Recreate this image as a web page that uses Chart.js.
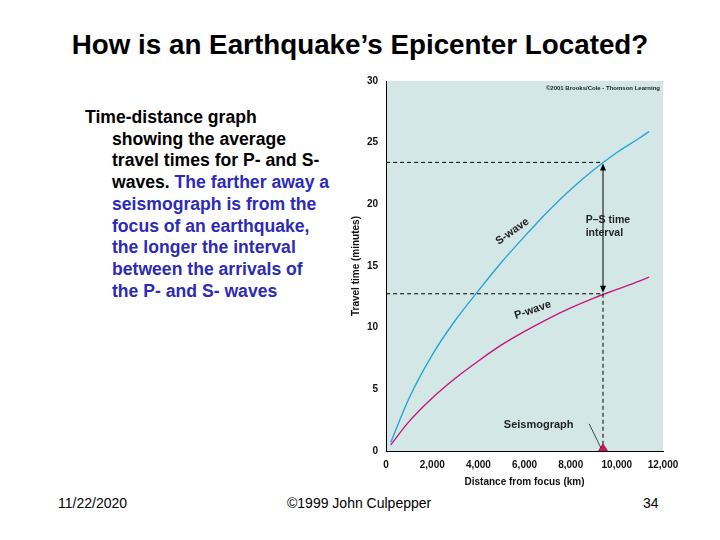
<!DOCTYPE html>
<html><head><meta charset="utf-8">
<script src="https://cdn.jsdelivr.net/npm/chart.js@4"></script>
<style>
body{margin:0;width:720px;height:540px;background:#fff;font-family:"Liberation Sans",Arial,sans-serif;position:relative;overflow:hidden}
#t{position:absolute;top:29px;left:0;width:720px;text-align:center;font-size:27.8px;font-weight:bold;line-height:32px}
#txt{position:absolute;left:85px;top:107px;width:290px;font-size:17.6px;font-weight:bold;line-height:21.7px;padding-left:27px;text-indent:-27px;white-space:nowrap}
.b{color:#2b2bb8}
.f{position:absolute;top:495px;font-size:14px}
#cw{position:absolute;left:340px;top:72px;width:345px;height:420px}
</style></head><body>
<div id="t">How is an Earthquake’s Epicenter Located?</div>
<div id="txt">Time-distance graph<br>showing the average<br>travel times for P- and S-<br>waves. <span class="b">The farther away a<br>seismograph is from the<br>focus of an earthquake,<br>the longer the interval<br>between the arrivals of<br>the P- and S- waves</span></div>
<div class="f" style="left:58px">11/22/2020</div>
<div class="f" style="left:287px">©1999 John Culpepper</div>
<div class="f" style="left:643px">34</div>
<div id="cw"><canvas id="c"></canvas></div>
<script>
const distances=[200,1000,2000,3000,4000,5000,6000,7000,8000,9000,10000,11000,11400];
const sWave=[0.7,4.3,7.8,10.6,13.0,15.3,17.4,19.4,21.2,22.8,24.2,25.4,25.9];
const pWave=[0.5,2.4,4.3,5.9,7.3,8.6,9.7,10.7,11.6,12.4,13.1,13.8,14.1];
const yTicks=[0,5,10,15,20,25,30];
const station=9400, sAt=23.4, pAt=12.75;
const F='"Liberation Sans",Arial,sans-serif';
const bg={id:'bg',beforeDraw(c){const a=c.chartArea,x=c.ctx;x.save();x.fillStyle='#d3e7e7';x.fillRect(a.left,a.top,a.right-a.left,a.bottom-a.top);x.restore();}};
const ann={id:'ann',afterDatasetsDraw(c){const x=c.ctx,X=c.scales.x,Y=c.scales.y;const sx=X.getPixelForValue(station),x0=X.getPixelForValue(0),ys=Y.getPixelForValue(sAt),yp=Y.getPixelForValue(pAt),y0=Y.getPixelForValue(0);
x.save();x.strokeStyle='#000';x.lineWidth=1;x.setLineDash([4,3]);
x.beginPath();x.moveTo(x0,ys);x.lineTo(sx,ys);x.moveTo(x0,yp);x.lineTo(sx,yp);x.moveTo(sx,yp);x.lineTo(sx,y0-6);x.stroke();
x.setLineDash([]);x.beginPath();x.moveTo(sx,ys+6);x.lineTo(sx,yp-6);x.stroke();
x.fillStyle='#000';x.beginPath();x.moveTo(sx,ys+1);x.lineTo(sx-3,ys+8);x.lineTo(sx+3,ys+8);x.fill();
x.beginPath();x.moveTo(sx,yp-1);x.lineTo(sx-3,yp-8);x.lineTo(sx+3,yp-8);x.fill();
x.fillStyle='#c2185b';x.beginPath();x.moveTo(sx,y0-8);x.lineTo(sx-5,y0);x.lineTo(sx+5,y0);x.fill();
x.fillStyle='#222';x.font='bold 10.5px '+F;x.textAlign='left';
x.fillText('P–S time',X.getPixelForValue(8650),Y.getPixelForValue(18.5));x.fillText('interval',X.getPixelForValue(8650),Y.getPixelForValue(17.4));
x.font='bold 11px '+F;
x.fillText('Seismograph',X.getPixelForValue(5100),Y.getPixelForValue(1.9));
x.beginPath();x.moveTo(X.getPixelForValue(8800),Y.getPixelForValue(2.2));x.lineTo(sx-2,y0-3);x.lineWidth=0.7;x.stroke();
x.font='bold 6px '+F;x.textAlign='right';x.fillText('©2001 Brooks/Cole - Thomson Learning',c.chartArea.right-3,c.chartArea.top+9);
x.font='bold 11px '+F;x.textAlign='center';
x.save();x.translate(X.getPixelForValue(5550),Y.getPixelForValue(17.6));x.rotate(-0.62);x.fillText('S-wave',0,0);x.restore();
x.save();x.translate(X.getPixelForValue(6400),Y.getPixelForValue(11.2));x.rotate(-0.33);x.fillText('P-wave',0,0);x.restore();
x.restore();}};
new Chart(document.getElementById('c'),{type:'line',
data:{datasets:[
{data:distances.map((d,i)=>({x:d,y:sWave[i]})),borderColor:'#27a6d6',borderWidth:1.4,pointRadius:0,cubicInterpolationMode:'monotone',fill:false},
{data:distances.map((d,i)=>({x:d,y:pWave[i]})),borderColor:'#c4197a',borderWidth:1.4,pointRadius:0,cubicInterpolationMode:'monotone',fill:false}]},
options:{responsive:true,maintainAspectRatio:false,animation:false,layout:{padding:{right:22,top:7,left:6,bottom:0}},
plugins:{legend:{display:false},tooltip:{enabled:false}},
scales:{x:{type:'linear',min:0,max:12000,grid:{display:false,drawTicks:true,tickLength:5},border:{color:'#000'},
ticks:{stepSize:2000,color:'#111',font:{size:10,weight:'bold',family:F},maxRotation:0,callback:v=>v.toLocaleString('en-US')},
title:{display:true,text:'Distance from focus (km)',color:'#111',font:{size:10,weight:'bold',family:F},padding:{top:2}}},
y:{type:'linear',min:0,max:30,afterBuildTicks:s=>{s.ticks=yTicks.map(v=>({value:v}));},grid:{display:false,tickLength:5},border:{color:'#000'},
ticks:{color:'#111',font:{size:10,weight:'bold',family:F}},
title:{display:true,text:'Travel time (minutes)',color:'#111',font:{size:10,weight:'bold',family:F},padding:{bottom:2}}}}},
plugins:[bg,ann]});
</script></body></html>
